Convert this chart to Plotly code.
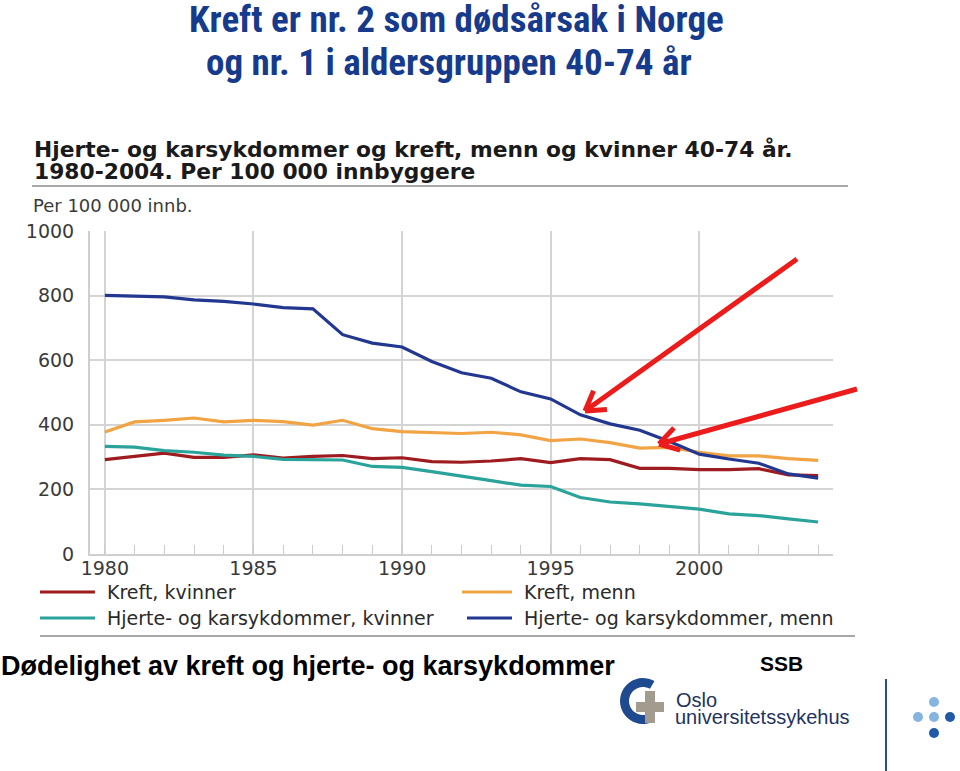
import math
import plotly.graph_objects as go

W, H = 960, 771

years = list(range(1980, 2005))
kreft_kvinner = [292, 302, 312, 299, 299, 307, 297, 302, 305, 295, 298, 286, 284, 288, 295,
                 283, 295, 292, 265, 265, 261, 261, 264, 245, 243]
kreft_menn = [378, 409, 414, 421, 409, 414, 410, 399, 414, 388, 379, 376, 373, 377, 369,
              351, 356, 345, 328, 330, 315, 304, 304, 295, 290]
hjerte_kvinner = [333, 331, 320, 315, 306, 302, 293, 292, 291, 271, 268, 255, 242, 227, 213,
                  209, 175, 161, 155, 147, 139, 124, 119, 109, 99]
hjerte_menn = [801, 799, 796, 787, 782, 774, 763, 759, 679, 653, 641, 596, 561, 544, 502,
               480, 431, 403, 383, 348, 309, 294, 281, 248, 235]

series_names = ["Kreft, kvinner", "Kreft, menn",
                "Hjerte- og karsykdommer, kvinner", "Hjerte- og karsykdommer, menn"]
series_values = [kreft_kvinner, kreft_menn, hjerte_kvinner, hjerte_menn]
series_colors = ["#9e1b1f", "#f2a445", "#2aa39a", "#22378f"]

x_ticks = [1980, 1985, 1990, 1995, 2000]
y_ticks = [0, 200, 400, 600, 800, 1000]

title_lines = ["Kreft er nr. 2 som dødsårsak i Norge", "og nr. 1 i aldersgruppen 40-74 år"]
chart_title = ["Hjerte- og karsykdommer og kreft, menn og kvinner 40-74 år.",
               "1980-2004. Per 100 000 innbyggere"]
unit_label = "Per 100 000 innb."
footer = "Dødelighet av kreft og hjerte- og karsykdommer"


def px(x):
    return x / W


def py(y):
    return 1 - y / H


CHART_FONT = "DejaVu Sans, Verdana, sans-serif"
TITLE_FONT = "Liberation Sans Narrow, Roboto Condensed, Roboto, sans-serif"
ARIAL = "Liberation Sans, Arial, sans-serif"

fig = go.Figure()
for name, vals, col in zip(series_names, series_values, series_colors):
    fig.add_trace(go.Scatter(x=years, y=vals, mode="lines", name=name,
                             line=dict(color=col, width=3.2), showlegend=False))

fig.update_layout(
    width=W, height=H, margin=dict(l=0, r=0, t=0, b=0, autoexpand=False),
    paper_bgcolor="white", plot_bgcolor="white",
    xaxis=dict(domain=[px(90), px(833)], range=[1979.5, 2004.5], automargin=False,
               tickvals=x_ticks, showgrid=True, gridcolor="#d4d4d4", gridwidth=2,
               showline=True, linecolor="#cfcfcf", linewidth=2, zeroline=False,
               ticks="", ticklabelstandoff=-4,
               tickfont=dict(family=CHART_FONT, size=19, color="#3a3a3a"),
               minor=dict(dtick=1, tick0=1980, ticks="inside", ticklen=9,
                          tickcolor="#cccccc", tickwidth=1, showgrid=False)),
    yaxis=dict(domain=[py(554), py(231)], range=[0, 1000], tickvals=y_ticks, automargin=False,
               showgrid=True, gridcolor="#d4d4d4", gridwidth=2,
               showline=True, linecolor="#cfcfcf", linewidth=2, zeroline=False,
               ticks="", ticklabelstandoff=10,
               tickfont=dict(family=CHART_FONT, size=19, color="#3a3a3a")),
)

ann = []
# main title
ann.append(dict(text=title_lines[0], x=px(456), y=py(19), xref="paper", yref="paper",
                xanchor="center", yanchor="middle", showarrow=False, borderpad=0,
                font=dict(family=TITLE_FONT, size=37, color="#163b8c", weight="bold")))
ann.append(dict(text=title_lines[1], x=px(449), y=py(62), xref="paper", yref="paper",
                xanchor="center", yanchor="middle", showarrow=False, borderpad=0,
                font=dict(family=TITLE_FONT, size=37, color="#163b8c", weight="bold")))
# chart title
for i, t in enumerate(chart_title):
    ann.append(dict(text=t, x=px(33), y=py(150 + 21 * i), xref="paper", yref="paper",
                    xanchor="left", yanchor="middle", showarrow=False, borderpad=0,
                    font=dict(family=CHART_FONT, size=21.8, color="#1a1a1a", weight="bold")))
ann.append(dict(text=unit_label, x=px(31), y=py(206), xref="paper", yref="paper",
                xanchor="left", yanchor="middle", showarrow=False,
                font=dict(family=CHART_FONT, size=18, color="#3a3a3a")))

# legend (manual)
leg_pos = [(40, 95, 106, 592), (462, 512, 523, 592), (40, 95, 106, 618), (467, 512, 523, 618)]
shapes = []
for (x0, x1, xt, yy), name, col in zip(leg_pos, series_names, series_colors):
    shapes.append(dict(type="line", xref="paper", yref="paper", x0=px(x0), x1=px(x1),
                       y0=py(yy), y1=py(yy), line=dict(color=col, width=3)))
    ann.append(dict(text=name, x=px(xt), y=py(yy), xref="paper", yref="paper",
                    xanchor="left", yanchor="middle", showarrow=False, borderpad=0,
                    font=dict(family=CHART_FONT, size=19, color="#2a2a2a")))

# rules
shapes.append(dict(type="line", xref="paper", yref="paper", x0=px(32), x1=px(848),
                   y0=py(186), y1=py(186), line=dict(color="#a8a8a8", width=2)))
shapes.append(dict(type="line", xref="paper", yref="paper", x0=px(40), x1=px(855),
                   y0=py(636), y1=py(636), line=dict(color="#a8a8a8", width=2)))


# red arrows
def arrow(tx, ty, hx, hy):
    out = [dict(type="line", xref="paper", yref="paper", x0=px(tx), y0=py(ty),
                x1=px(hx), y1=py(hy), line=dict(color="#ec1c1c", width=5))]
    ang = math.atan2(ty - hy, tx - hx)
    for d in (-0.55, 0.55):
        bx = hx + 22 * math.cos(ang + d)
        by = hy + 22 * math.sin(ang + d)
        out.append(dict(type="line", xref="paper", yref="paper", x0=px(hx), y0=py(hy),
                        x1=px(bx), y1=py(by), line=dict(color="#ec1c1c", width=5)))
    return out


shapes += arrow(797, 259, 585, 411)
shapes += arrow(857, 389, 659, 444)

# footer
ann.append(dict(text=footer, x=0, y=py(666), xref="paper", yref="paper",
                xanchor="left", yanchor="middle", showarrow=False, borderpad=0,
                font=dict(family=ARIAL, size=27, color="#000000", weight="bold")))
ann.append(dict(text="SSB", x=px(781), y=py(663), xref="paper", yref="paper",
                xanchor="center", yanchor="middle", showarrow=False,
                font=dict(family=ARIAL, size=21, color="#000000", weight="bold")))

# Oslo universitetssykehus logo
cx, cy, r_out, r_in = 643, 701, 23, 14
pts_out = []
pts_in = []
for k in range(0, 31):
    a = math.radians(60 + 240 * k / 30)
    pts_out.append((cx + r_out * math.cos(a), cy - r_out * math.sin(a)))
    pts_in.append((cx + r_in * math.cos(a), cy - r_in * math.sin(a)))
path = "M " + " L ".join(f"{px(x):.5f},{py(y):.5f}" for x, y in pts_out)
path += " L " + " L ".join(f"{px(x):.5f},{py(y):.5f}" for x, y in reversed(pts_in)) + " Z"
shapes.append(dict(type="path", xref="paper", yref="paper", path=path,
                   fillcolor="#1f4a8f", line=dict(width=0)))
# cross
for (x0, y0, x1, y1) in [(645, 691, 655, 723), (636, 702, 664, 712)]:
    shapes.append(dict(type="rect", xref="paper", yref="paper", x0=px(x0), x1=px(x1),
                       y0=py(y1), y1=py(y0), fillcolor="#a39b8e", line=dict(width=0)))
ann.append(dict(text="Oslo", x=px(675), y=py(700), xref="paper", yref="paper",
                xanchor="left", yanchor="middle", showarrow=False, borderpad=0,
                font=dict(family=ARIAL, size=20, color="#22335e")))
ann.append(dict(text="universitetssykehus", x=px(674), y=py(717), xref="paper", yref="paper",
                xanchor="left", yanchor="middle", showarrow=False, borderpad=0,
                font=dict(family=ARIAL, size=20, color="#22335e")))
shapes.append(dict(type="line", xref="paper", yref="paper", x0=px(886), x1=px(886),
                   y0=py(679), y1=py(771), line=dict(color="#2a4d8f", width=2)))
for (dx, dy, c) in [(934, 702, "#86b4e0"), (918, 717, "#86b4e0"), (934, 717, "#86b4e0"),
                    (950, 717, "#1e5aa8"), (934, 733, "#1e5aa8")]:
    shapes.append(dict(type="circle", xref="paper", yref="paper", x0=px(dx - 5), x1=px(dx + 5),
                       y0=py(dy + 5), y1=py(dy - 5), fillcolor=c, line=dict(width=0)))

fig.update_layout(annotations=ann, shapes=shapes)
fig.write_html("out.html", config={"displayModeBar": False},
               post_script="document.body.style.margin='0px';document.body.style.overflow='hidden';")
